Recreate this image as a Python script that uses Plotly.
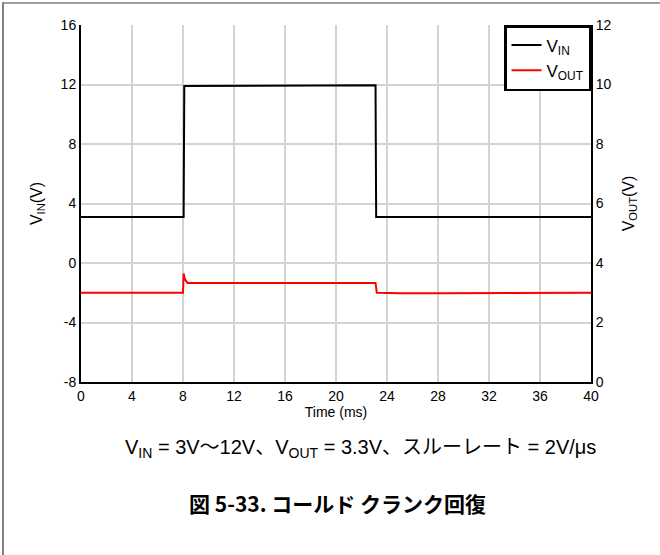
import plotly.graph_objects as go

# Data
time_vin = [0, 8.05, 8.1, 23.1, 23.15, 40]
vin = [3.1, 3.1, 11.9, 11.95, 3.1, 3.1]

time_vout = [0, 8.0, 8.05, 8.15, 8.35, 23.1, 23.2, 25, 28, 40]
vout = [3.0, 3.0, 3.65, 3.45, 3.33, 3.33, 3.0, 2.98, 2.98, 3.0]

x_ticks = [0, 4, 8, 12, 16, 20, 24, 28, 32, 36, 40]
left_ticks = [-8, -4, 0, 4, 8, 12, 16]
left_tick_labels = ["-8", "-4", "0", "4", "8", "12", "16"]
right_ticks = [0, 2, 4, 6, 8, 10, 12]

FONT = "Liberation Sans, Arial, Noto Sans CJK JP, sans-serif"

W, H = 660, 555
L, R, T, B = 81, 591, 25, 382


def px(x):
    return (x - L) / (R - L)


def py(y):
    return (B - y) / (B - T)


fig = go.Figure()
fig.add_trace(go.Scatter(x=time_vin, y=vin, mode="lines", name="V<sub>IN</sub>",
                         line=dict(color="black", width=2), yaxis="y"))
fig.add_trace(go.Scatter(x=time_vout, y=vout, mode="lines", name="V<sub>OUT</sub>",
                         line=dict(color="#ff0000", width=2), yaxis="y2"))

fig.update_layout(
    width=W, height=H,
    margin=dict(l=L, r=W - R, t=T, b=H - B),
    paper_bgcolor="white", plot_bgcolor="white",
    font=dict(family=FONT, size=14, color="black"),
    showlegend=True,
    legend=dict(x=1, xanchor="right", y=1, yanchor="top",
                bordercolor="black", borderwidth=2.5, bgcolor="white",
                font=dict(size=17), itemwidth=30, tracegroupgap=0),
    xaxis=dict(range=[0, 40], tickvals=x_ticks, showgrid=True, gridcolor="#d3d3d3",
               gridwidth=1.5, showline=True, linecolor="black", linewidth=2,
               ticks="", zeroline=False,
               title=dict(text="Time (ms)", font=dict(size=14), standoff=2)),
    yaxis=dict(range=[-8, 16], tickvals=left_ticks, ticktext=left_tick_labels,
               showgrid=True, gridcolor="#d3d3d3",
               gridwidth=1.5, showline=True, linecolor="black", linewidth=2,
               ticks="", zeroline=False,
               title=dict(text="V<sub>IN</sub>(V)", font=dict(size=16), standoff=14)),
    yaxis2=dict(range=[0, 12], tickvals=right_ticks, overlaying="y", side="right",
                showgrid=False, showline=True, linecolor="black", linewidth=2,
                ticks="", zeroline=False,
                title=dict(text="V<sub>OUT</sub>(V)", font=dict(size=16), standoff=12)),
    shapes=[
        dict(type="line", xref="paper", yref="paper", x0=px(3), x1=px(3), y0=py(2), y1=py(555),
             line=dict(color="#808080", width=2)),
        dict(type="line", xref="paper", yref="paper", x0=px(2), x1=px(660), y0=py(3), y1=py(3),
             line=dict(color="#808080", width=1.5)),
    ],
    annotations=[
        dict(xref="paper", yref="paper", x=px(360), y=py(448), xanchor="center", yanchor="middle",
             showarrow=False,
             text="V<sub>IN</sub> = 3V～12V、V<sub>OUT</sub> = 3.3V、スルーレート = 2V/μs",
             font=dict(size=20, family=FONT)),
        dict(xref="paper", yref="paper", x=px(337), y=py(503), xanchor="center", yanchor="middle",
             showarrow=False,
             text="<b>図 5-33. コールド クランク回復</b>",
             font=dict(size=21, family="Noto Sans CJK JP, Liberation Sans, sans-serif")),
    ],
)

fig.write_html("out.html",
               config={"displayModeBar": False},
               post_script="document.body.style.margin='0';document.body.style.overflow='hidden';")
